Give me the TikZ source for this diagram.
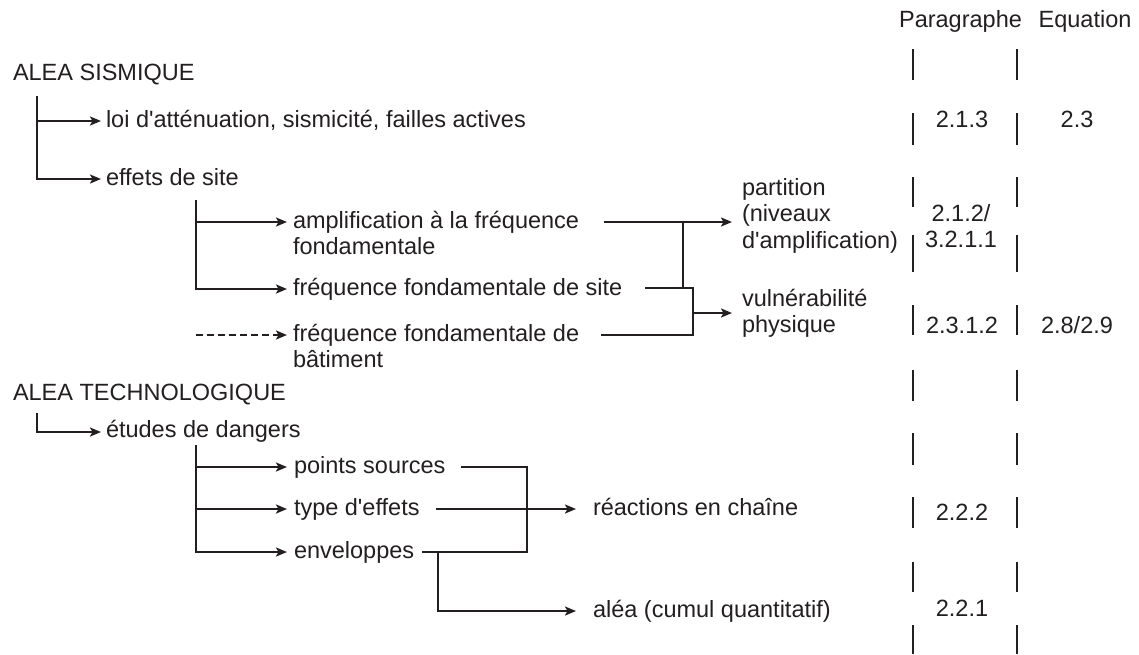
\documentclass[tikz,border=0pt]{standalone}
\usepackage{fontspec}
\setmainfont{Liberation Sans}[Ligatures=TeXOff]
\usetikzlibrary{arrows.meta,calc}
\definecolor{ink}{RGB}{35,31,32}
\begin{document}
\begin{tikzpicture}[x=1pt,y=-1pt,
  every node/.style={inner sep=0pt, outer sep=0pt, text=ink, font=\fontsize{23.5}{26.5}\selectfont},
  lbl/.style={anchor=base west},
  hdr/.style={anchor=base},
  num/.style={anchor=base, align=center},
  multi/.style={anchor=base west, align=left},
  conn/.style={draw=ink, line width=2.6pt},
  arr/.style={conn, -{Stealth[length=11pt,width=9pt,inset=2.5pt]}},
  dsh/.style={arr, dash pattern=on 7pt off 4pt},
  colbar/.style={draw=ink, line width=2.8pt},
]
\useasboundingbox (0,0) rectangle (1139,654);

% headers
\node[hdr] (hpar) at (960.5,27) {Paragraphe};
\node[hdr] (heq) at (1085,27) {Equation};

% column bars
\foreach \a/\b in {49/80,113/145,177/207,235/272,305/335,370/401,433/465,497/528,562/592,625/654}{
  \draw[colbar] (913,\a) -- (913,\b);
  \draw[colbar] (1017,\a) -- (1017,\b);
}

% numbers (multi-line nodes are placed by the baseline of their last line)
\node[num] (p1) at (962,127) {2.1.3};
\node[num] (e1) at (1077,127) {2.3};
\node[num] (p2) at (961,247.5) {2.1.2/\\3.2.1.1};
\node[num] (p3) at (962,333) {2.3.1.2};
\node[num] (e3) at (1077,333) {2.8/2.9};
\node[num] (p4) at (962,520) {2.2.2};
\node[num] (p5) at (962,616) {2.2.1};

% seismic tree texts
\node[lbl] (as) at (13,80) {ALEA SISMIQUE};
\node[lbl] (loi) at (106,127) {loi d'atténuation, sismicité, failles actives};
\node[lbl] (eff) at (106,185) {effets de site};
\node[multi] (amp) at (293,254.5) {amplification à la fréquence\\fondamentale};
\node[lbl] (fsite) at (293,295) {fréquence fondamentale de site};
\node[multi] (fbat) at (293,367.5) {fréquence fondamentale de\\bâtiment};
\node[multi] (part) at (742,248) {partition\\(niveaux\\d'amplification)};
\node[multi] (vuln) at (742,332.5) {vulnérabilité\\physique};

% technological tree texts
\node[lbl] (at) at (13,400) {ALEA TECHNOLOGIQUE};
\node[lbl] (etd) at (106,437) {études de dangers};
\node[lbl] (pts) at (294,473) {points sources};
\node[lbl] (typ) at (294,515) {type d'effets};
\node[lbl] (env) at (294,558) {enveloppes};
\node[lbl] (reac) at (593,515) {réactions en chaîne};
\node[lbl] (alea) at (593,617) {aléa (cumul quantitatif)};

% seismic connectors
\coordinate (v1t) at (37,96);
\draw[arr] (v1t) |- ([xshift=-5pt,yshift=6pt]loi.base west);
\draw[arr] (v1t) |- ([xshift=-5pt,yshift=6pt]eff.base west);

\coordinate (v2t) at (196,200);
\draw[arr] (v2t) |- ([xshift=-6pt,yshift=32.5pt]amp.base west);
\draw[arr] (v2t) |- ([xshift=-6pt,yshift=6pt]fsite.base west);
\coordinate (dst) at (196,335);
\draw[dsh] (dst) -- ([xshift=-6pt,yshift=32.5pt]fbat.base west);

\coordinate (pA) at ($(amp.base east)+(25,-32.5)$);
\coordinate (jA) at (683,0 |- pA);
\coordinate (jB) at (683,288);
\coordinate (kB) at (693,288);
\coordinate (kC) at (693,335);
\coordinate (kM) at (693,313);
\coordinate (sE) at ($(fsite.base east)+(23,-7)$);
\coordinate (bE) at ($(fbat.base east)+(22,-32.5)$);
\draw[arr] (pA) -- ($(part.west |- pA)+(-10,0)$);
\draw[conn] (jA) -- (jB);
\draw[conn] (sE) -- (kB) -- (kC) -- (bE);
\draw[arr] (kM) -- ($(vuln.west |- kM)+(-10,0)$);

% technological connectors
\coordinate (v3t) at (37,413);
\draw[arr] (v3t) |- ([xshift=-5pt,yshift=5pt]etd.base west);

\coordinate (v4t) at (196,445);
\draw[arr] (v4t) |- ([xshift=-7pt,yshift=6pt]pts.base west);
\draw[arr] (v4t) |- ([xshift=-7pt,yshift=6pt]typ.base west);
\draw[arr] (v4t) |- ([xshift=-7pt,yshift=6pt]env.base west);

\coordinate (mR) at (527,467);
\coordinate (mB) at (527,552);
\draw[conn] ($(pts.base east)+(15,-6)$) -- (mR) -- (mB) -- ($(env.base east)+(8,-6)$);
\draw[arr] ($(typ.base east)+(16,-6)$) -- ($(reac.base west)+(-17,-6)$);
\coordinate (eB) at (438,552);
\draw[arr] (eB) |- ($(alea.base west)+(-17,-6)$);
\end{tikzpicture}
\end{document}
